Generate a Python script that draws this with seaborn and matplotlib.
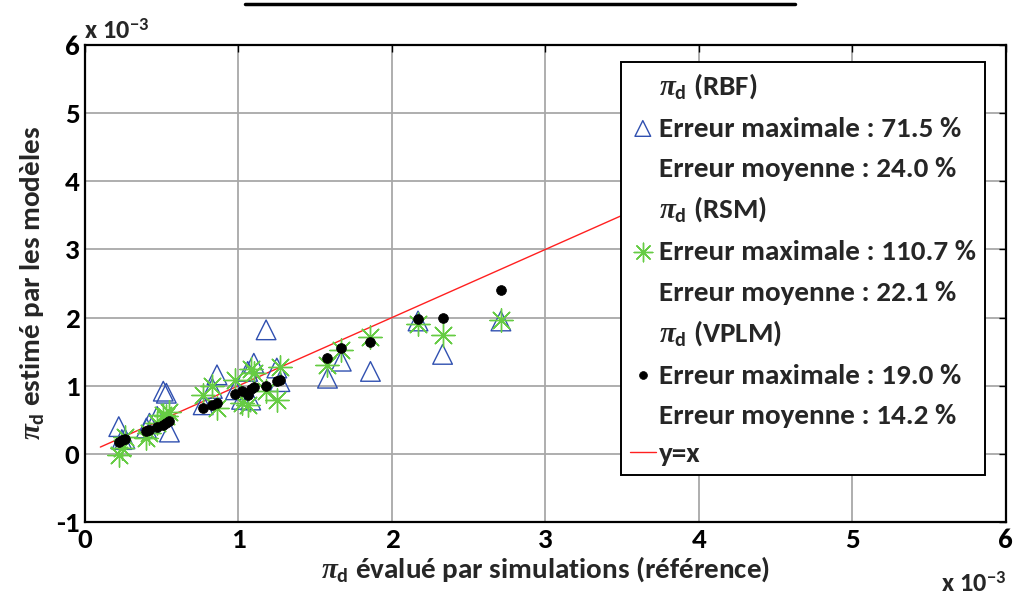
import matplotlib
matplotlib.use('Agg')
import matplotlib.pyplot as plt
from matplotlib.lines import Line2D
from matplotlib import font_manager
import seaborn as sns
import pandas as pd

# pi_d values, in units of 1e-3
x_ref = [0.22, 0.24, 0.26, 0.40, 0.42, 0.47, 0.51, 0.53, 0.55, 0.77, 0.83, 0.86, 0.98,
         1.02, 1.06, 1.08, 1.10, 1.18, 1.25, 1.27, 1.58, 1.67, 1.86, 2.17, 2.33, 2.71]
y_rbf = [0.40, 0.21, 0.22, 0.38, 0.45, 0.55, 0.92, 0.89, 0.32, 0.72, 0.96, 1.16, 0.94,
         0.80, 1.21, 0.79, 1.33, 1.82, 1.26, 1.06, 1.11, 1.36, 1.21, 1.95, 1.46, 1.95]
y_rsm = [-0.01, 0.08, 0.25, 0.23, 0.30, 0.45, 0.57, 0.56, 0.62, 0.87, 1.00, 0.67, 1.09,
         0.74, 0.72, 1.24, 1.18, 0.92, 0.79, 1.27, 1.31, 1.53, 1.72, 1.90, 1.75, 1.97]
y_vplm = [0.18, 0.21, 0.22, 0.33, 0.35, 0.40, 0.43, 0.46, 0.48, 0.67, 0.72, 0.74, 0.88,
          0.92, 0.87, 0.95, 0.98, 0.99, 1.07, 1.08, 1.40, 1.55, 1.64, 1.98, 2.00, 2.40]
line_x = [0.1, 4.5]

lbl_rbf = '$\\pi_{\\mathbf{d}}$ (RBF)\nErreur maximale : 71.5 %\nErreur moyenne : 24.0 %'
lbl_rsm = '$\\pi_{\\mathbf{d}}$ (RSM)\nErreur maximale : 110.7 %\nErreur moyenne : 22.1 %'
lbl_vplm = '$\\pi_{\\mathbf{d}}$ (VPLM)\nErreur maximale : 19.0 %\nErreur moyenne : 14.2 %'

df = pd.DataFrame({'ref': x_ref, 'rbf': y_rbf, 'rsm': y_rsm, 'vplm': y_vplm})
df_line = pd.DataFrame({'x': line_x, 'y': line_x})

# Calibri look-alike if there is one
have = {f.name for f in font_manager.fontManager.ttflist}
main_font = 'Carlito' if 'Carlito' in have else 'Lato'

sns.set_style('white')
plt.rcParams['font.family'] = [main_font, 'DejaVu Sans']
plt.rcParams['font.weight'] = 'bold'
plt.rcParams['axes.unicode_minus'] = False
plt.rcParams['mathtext.fontset'] = 'custom'
plt.rcParams['mathtext.it'] = 'Liberation Serif:italic'
plt.rcParams['mathtext.rm'] = main_font + ':bold'
plt.rcParams['mathtext.bf'] = main_font + ':bold'

fig = plt.figure(figsize=(10.18, 5.99), dpi=100)
ax = fig.add_axes([0.0835, 0.1285, 0.9045, 0.7964])

blue = '#3050b0'
green = '#66cc44'

sns.scatterplot(data=df, x='ref', y='rbf', ax=ax, marker='^', s=200,
                facecolor='none', edgecolor=blue, linewidth=1.0, label=lbl_rbf, zorder=3)
sns.scatterplot(data=df, x='ref', y='rsm', ax=ax, marker=(8, 2, 0), s=280,
                color=green, linewidth=1.0, label=lbl_rsm, zorder=3)
sns.scatterplot(data=df, x='ref', y='vplm', ax=ax, marker='o', s=50,
                color='black', edgecolor='black', linewidth=0.5, label=lbl_vplm, zorder=4)
sns.lineplot(data=df_line, x='x', y='y', ax=ax, color='#ff2020', linewidth=1.0,
             label='y=x', zorder=2)

ax.set_xlim(0, 6)
ax.set_ylim(-1, 6)
ax.set_xticks(range(0, 7))
ax.set_yticks(range(-1, 7))
ax.grid(True, color='#a8a8a8', linewidth=1.3)
ax.set_axisbelow(True)
for sp in ax.spines.values():
    sp.set_color('black')
    sp.set_linewidth(1.6)
ax.tick_params(direction='in', length=5, width=1.0, top=True, right=True,
               labelsize=21, pad=4, colors='black')
for t in ax.get_xticklabels() + ax.get_yticklabels():
    t.set_fontweight('bold')

ax.set_xlabel('$\\pi_{\\mathbf{d}}$ évalué par simulations (référence)',
              fontsize=21, fontweight='bold', labelpad=2)
ax.set_ylabel('$\\pi_{\\mathbf{d}}$ estimé par les modèles',
              fontsize=21, fontweight='bold', labelpad=6)

fig.text(0.083, 0.935, 'x 10$^{\\mathbf{-3}}$', fontsize=19, fontweight='bold', ha='left')
fig.text(0.988, 0.012, 'x 10$^{\\mathbf{-3}}$', fontsize=19, fontweight='bold', ha='right')

leg = ax.legend(loc='upper right', bbox_to_anchor=(0.977, 0.964), frameon=True,
                fancybox=False, framealpha=1, edgecolor='black', markerscale=0.8,
                handlelength=0.9, handletextpad=0.1, borderpad=0.3, borderaxespad=0,
                labelspacing=0.45,
                prop={'family': [main_font, 'DejaVu Sans'], 'weight': 'bold', 'size': 21})
leg.get_frame().set_linewidth(1.4)
for t in leg.get_texts():
    t.set_linespacing(1.82)

# black bar at the top of the image
fig.add_artist(Line2D([0.241, 0.781], [0.993, 0.993], color='black', linewidth=2.5))

plt.savefig('out.png', dpi=100)
plt.close()
